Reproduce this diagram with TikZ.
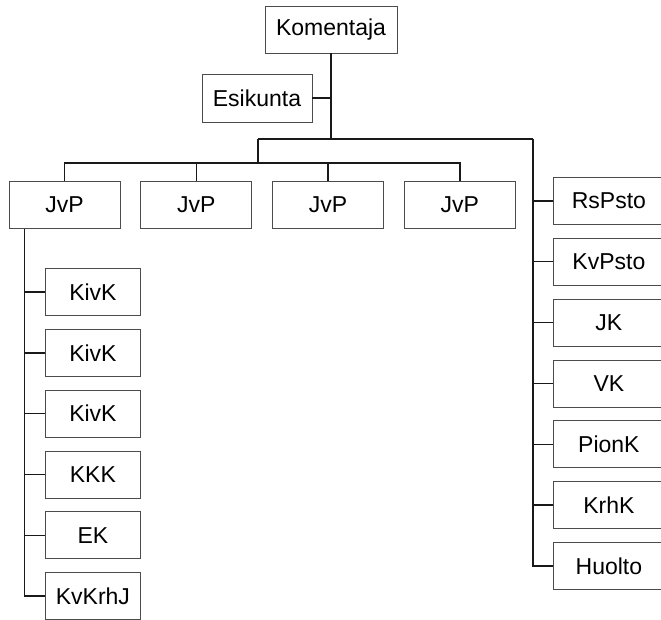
\documentclass[tikz,border=0pt]{standalone}
\usepackage{fontspec}
\setmainfont{Liberation Sans}
\usetikzlibrary{positioning}
\tikzset{
  unit/.style={%
    draw=black!70, line width=0.8pt,
    % Boxes of the scanned chart are all about the same size.
    minimum width=111pt, minimum height=47pt,
    inner sep=0pt,
    font=\fontsize{23}{25}\selectfont
  },
  subunit/.style={%
    unit, minimum width=95pt
  },
  link/.style={%
    draw=black!90, line width=1.4pt
  }%
}
\begin{document}
\begin{tikzpicture}[x=1pt,y=-1pt]

% Page of the scan; the staff boxes on the right run off its edge.
\useasboundingbox (0,0) rectangle (661,620);
\clip (0,0) rectangle (661,620);

% Commander and staff.
\node[unit, minimum width=132pt] (komentaja) at (331,29.5) {Komentaja};
\node[unit, minimum width=110pt, minimum height=48pt] (esikunta) at (257,98) {Esikunta};
\coordinate (hubL) at (258,139);
\coordinate (hubR) at (533,139);
\coordinate (busJ) at (258,163);

% Row of JvP units.
\node[unit] (jvpA) at (64.5,205) {JvP};
\node[unit, right=20pt of jvpA] (jvpB) {JvP};
\node[unit, right=20pt of jvpB] (jvpC) {JvP};
\node[unit, right=20pt of jvpC] (jvpD) {JvP};

% Units under the first JvP.
\node[subunit, anchor=west] (kivkA) at (45,292) {KivK};
\node[subunit, below=13pt of kivkA] (kivkB) {KivK};
\node[subunit, below=13pt of kivkB] (kivkC) {KivK};
\node[subunit, below=13pt of kivkC] (kkk) {KKK};
\node[subunit, below=13pt of kkk] (ek) {EK};
\node[subunit, below=13pt of ek] (kvKrhJ) {KvKrhJ};
\coordinate (spineL) at ([xshift=16pt]jvpA.south west);

% Directly subordinated units on the right.
\node[unit, anchor=west] (rsPsto) at (553,201) {RsPsto};
\node[unit, below=13pt of rsPsto] (kvPsto) {KvPsto};
\node[unit, below=13pt of kvPsto] (jk) {JK};
\node[unit, below=13pt of jk] (vk) {VK};
\node[unit, below=13pt of vk] (pionK) {PionK};
\node[unit, below=13pt of pionK] (krhK) {KrhK};
\node[unit, below=13pt of krhK] (huolto) {Huolto};

% Trunk and main bus.
\draw[link] (komentaja) -- (komentaja.south |- hubL);
\draw[link] (esikunta) -- (esikunta.east -| komentaja.south);
\draw[link] (hubL) -- (hubR);
\draw[link] (hubL) -- (busJ);

% JvP bus.
\draw[link] (jvpA.north) -- (jvpA.north |- busJ) -- (jvpD.north |- busJ) -- (jvpD.north);
\draw[link] (jvpB.north) -- (jvpB.north |- busJ);
\draw[link] (jvpC.north) -- (jvpC.north |- busJ);

% Left spine.
\draw[link] (spineL) |- (kvKrhJ.west);
\draw[link] (kivkA.west -| spineL) -- (kivkA.west);
\draw[link] (kivkB.west -| spineL) -- (kivkB.west);
\draw[link] (kivkC.west -| spineL) -- (kivkC.west);
\draw[link] (kkk.west -| spineL) -- (kkk.west);
\draw[link] (ek.west -| spineL) -- (ek.west);

% Right spine.
\draw[link] (hubR) |- (huolto.west);
\draw[link] (rsPsto.west -| hubR) -- (rsPsto.west);
\draw[link] (kvPsto.west -| hubR) -- (kvPsto.west);
\draw[link] (jk.west -| hubR) -- (jk.west);
\draw[link] (vk.west -| hubR) -- (vk.west);
\draw[link] (pionK.west -| hubR) -- (pionK.west);
\draw[link] (krhK.west -| hubR) -- (krhK.west);

\end{tikzpicture}
\end{document}
